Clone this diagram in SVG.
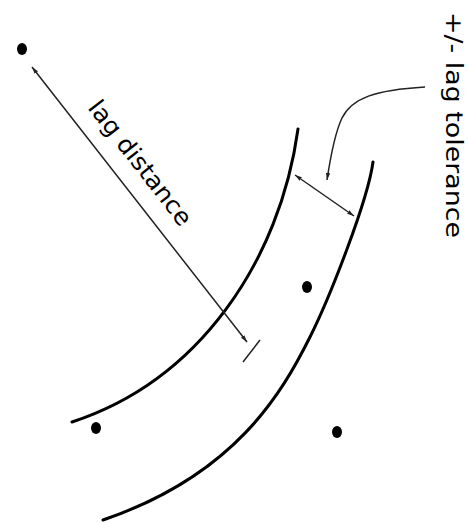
<svg xmlns="http://www.w3.org/2000/svg" width="468" height="523" viewBox="0 0 468 523">
<style>
.curve{fill:none;stroke:#000;stroke-width:3;stroke-linecap:round}
.arr{fill:none;stroke:#222;stroke-width:1.5}
.dot{fill:#000}
.lbl{font-family:"DejaVu Sans","Liberation Sans",sans-serif;font-size:24px;fill:#000}
</style>
<defs>
<marker id="ah" viewBox="0 0 10 6" refX="10" refY="3" markerWidth="7" markerHeight="4.5" markerUnits="userSpaceOnUse" orient="auto-start-reverse">
<path d="M0,0 L10,3 L0,6 Z" fill="#222"/>
</marker>
</defs>
<g id="points">
<g id="p1"><ellipse class="dot" cx="22" cy="49" rx="5" ry="6"/></g>
<g id="p2"><ellipse class="dot" cx="307" cy="287" rx="5" ry="6"/></g>
<g id="p3"><ellipse class="dot" cx="96" cy="428" rx="5" ry="6"/></g>
<g id="p4"><ellipse class="dot" cx="337" cy="432" rx="5" ry="6"/></g>
</g>
<g id="band">
<path id="inner" class="curve" d="M298,129 C280,260 200,380 72,422"/>
<path id="outer" class="curve" d="M373,162 C368,200 330,297 310,337 C282,393 235,475 103,520"/>
</g>
<g id="connectors">
<line class="arr" x1="32" y1="67" x2="247" y2="342" marker-start="url(#ah)" marker-end="url(#ah)"/>
<line class="arr" x1="243" y1="362" x2="260" y2="340"/>
<line class="arr" x1="295" y1="175" x2="354" y2="216" marker-start="url(#ah)" marker-end="url(#ah)"/>
<path class="arr" d="M425,87 C375,90 352,98 342,118 C334,135 330,160 327,180" marker-end="url(#ah)"/>
</g>
<g id="labels">
<text class="lbl" transform="translate(87,108) rotate(52)" textLength="152" lengthAdjust="spacingAndGlyphs">lag distance</text>
<text class="lbl" style="font-size:23px" transform="translate(446,12) rotate(90)" textLength="226" lengthAdjust="spacingAndGlyphs">+/- lag tolerance</text>
</g>
</svg>
